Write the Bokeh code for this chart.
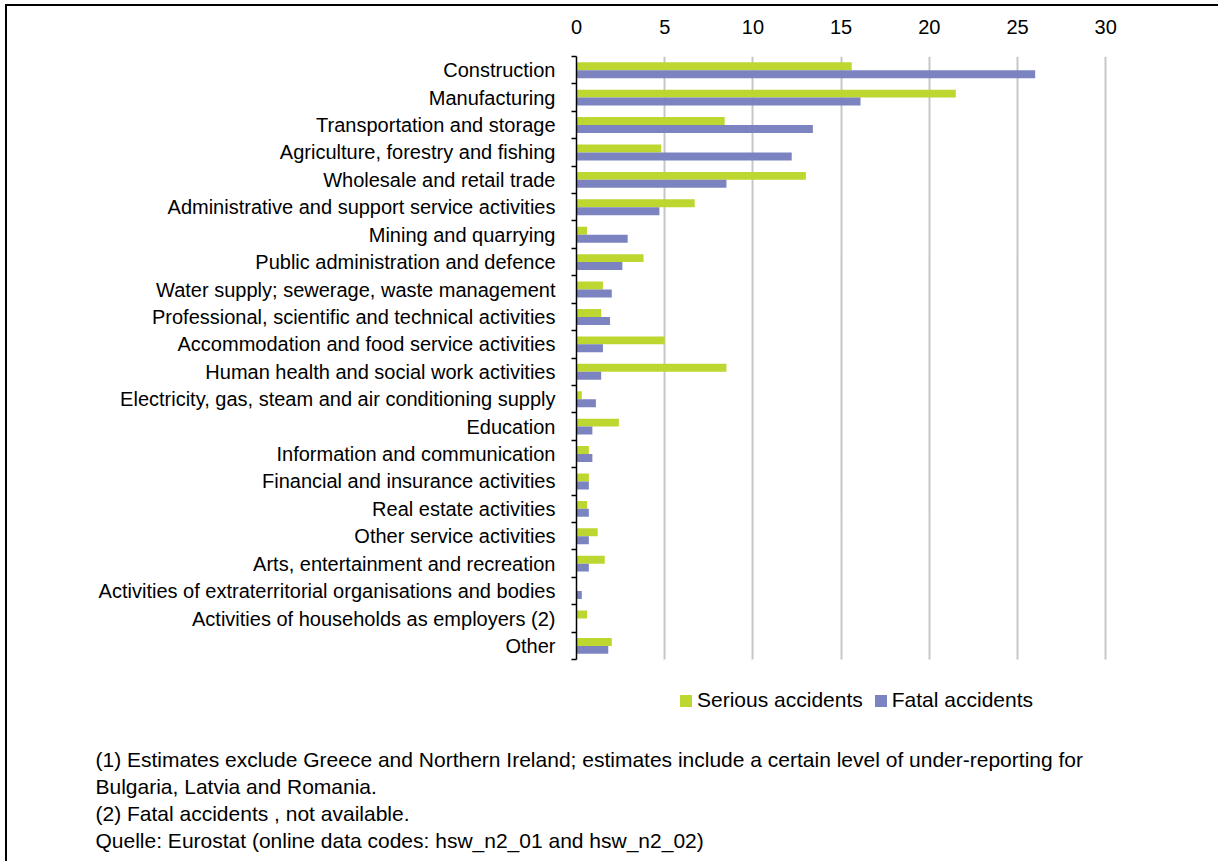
from bokeh.plotting import figure
from bokeh.models import (ColumnDataSource, Range1d, FixedTicker, Legend, LegendItem, Title)
from bokeh.transform import dodge
from bokeh.embed import file_html
from bokeh.resources import INLINE

# Share of accidents at work by NACE section (%), EU
sectors = [
    "Construction",
    "Manufacturing",
    "Transportation and storage",
    "Agriculture, forestry and fishing",
    "Wholesale and retail trade",
    "Administrative and support service activities",
    "Mining and quarrying",
    "Public administration and defence",
    "Water supply; sewerage, waste management",
    "Professional, scientific and technical activities",
    "Accommodation and food service activities",
    "Human health and social work activities",
    "Electricity, gas, steam and air conditioning supply",
    "Education",
    "Information and communication",
    "Financial and insurance activities",
    "Real estate activities",
    "Other service activities",
    "Arts, entertainment and recreation",
    "Activities of extraterritorial organisations and bodies",
    "Activities of households as employers (2)",
    "Other",
]
serious = [15.6, 21.5, 8.4, 4.8, 13.0, 6.7, 0.6, 3.8, 1.5, 1.4, 5.0,
           8.5, 0.3, 2.4, 0.7, 0.7, 0.6, 1.2, 1.6, 0.0, 0.6, 2.0]
fatal = [26.0, 16.1, 13.4, 12.2, 8.5, 4.7, 2.9, 2.6, 2.0, 1.9, 1.5,
         1.4, 1.1, 0.9, 0.9, 0.7, 0.7, 0.7, 0.7, 0.3, float("nan"), 1.8]
x_ticks = [0, 5, 10, 15, 20, 25, 30]
footnotes = [
    "(1) Estimates exclude Greece and Northern Ireland; estimates include a certain level of under-reporting for",
    "Bulgaria, Latvia and Romania.",
    "(2) Fatal accidents , not available.",
    "Quelle: Eurostat (online data codes: hsw_n2_01 and hsw_n2_02)",
]

FONT = "Liberation Sans"
GREEN = "#BED630"
PURPLE = "#7B84C1"

n = len(sectors)
source = ColumnDataSource(dict(pos=list(range(n)), serious=serious, fatal=fatal))

# the plot area runs on below the last row so that the legend sits inside it
legend_rows = 3.096
p = figure(width=1213, height=857, output_backend="svg", toolbar_location=None,
           x_range=Range1d(0, 30.1), y_range=Range1d(n - 0.5 + legend_rows, -0.5),
           x_axis_location="above",
           min_border_left=569, min_border_right=113,
           min_border_top=50, min_border_bottom=119)
p.title.visible = False
p.outline_line_color = None
p.background_fill_color = "white"
p.border_fill_color = "white"
# thin black rule along the top and left of the whole graphic
p.styles = {"margin-left": "5px", "margin-top": "4px",
            "border-left": "2px solid black", "border-top": "2px solid black"}

bar_h = 0.29
g = p.hbar(y=dodge("pos", -bar_h / 2), right="serious", height=bar_h,
           source=source, fill_color=GREEN, line_color=None)
f = p.hbar(y=dodge("pos", bar_h / 2), right="fatal", height=bar_h,
           source=source, fill_color=PURPLE, line_color=None)

# value axis on top
xa = p.xaxis[0]
xa.ticker = FixedTicker(ticks=x_ticks)
xa.axis_line_color = None
xa.major_tick_line_color = None
xa.minor_tick_line_color = None
xa.major_tick_out = 0
xa.major_label_standoff = 23
xa.major_label_text_font = FONT
xa.major_label_text_font_size = "20px"
xa.major_label_text_color = "black"

# category axis: labels at row centres, ticks on row boundaries
ya = p.yaxis[0]
ya.bounds = (-0.5, n - 0.5)
ya.ticker = FixedTicker(ticks=list(range(n)),
                        minor_ticks=[i - 0.5 for i in range(n + 1)])
ya.major_label_overrides = {i: s for i, s in enumerate(sectors)}
ya.major_tick_out = 0
ya.major_tick_in = 0
ya.minor_tick_out = 5
ya.minor_tick_in = 0
ya.minor_tick_line_color = "black"
ya.minor_tick_line_width = 1.5
ya.axis_line_color = "black"
ya.axis_line_width = 1.5
ya.major_label_standoff = 16
ya.major_label_text_font = FONT
ya.major_label_text_font_size = "20px"
ya.major_label_text_color = "black"

p.xgrid.ticker = FixedTicker(ticks=x_ticks[1:])
p.xgrid.cross_bounds = (-0.5, n - 0.5)
p.xgrid.grid_line_color = "#C6C6C6"
p.xgrid.grid_line_width = 2
p.ygrid.grid_line_color = None

legend = Legend(items=[LegendItem(label="Serious accidents", renderers=[g]),
                       LegendItem(label="Fatal accidents", renderers=[f])],
                orientation="horizontal", location=(102, 32),
                glyph_width=15, glyph_height=15, label_standoff=4, spacing=10,
                padding=0, margin=0, border_line_color=None,
                background_fill_alpha=0,
                label_text_font=FONT, label_text_font_size="21px",
                label_text_color="black")
p.add_layout(legend, "center")

for line in footnotes:
    p.add_layout(Title(text=line, align="left", offset=-481, standoff=1.7,
                       text_font=FONT, text_font_size="21px",
                       text_font_style="normal", text_color="black"), "below")

open("out.html", "w").write(file_html(p, INLINE))
